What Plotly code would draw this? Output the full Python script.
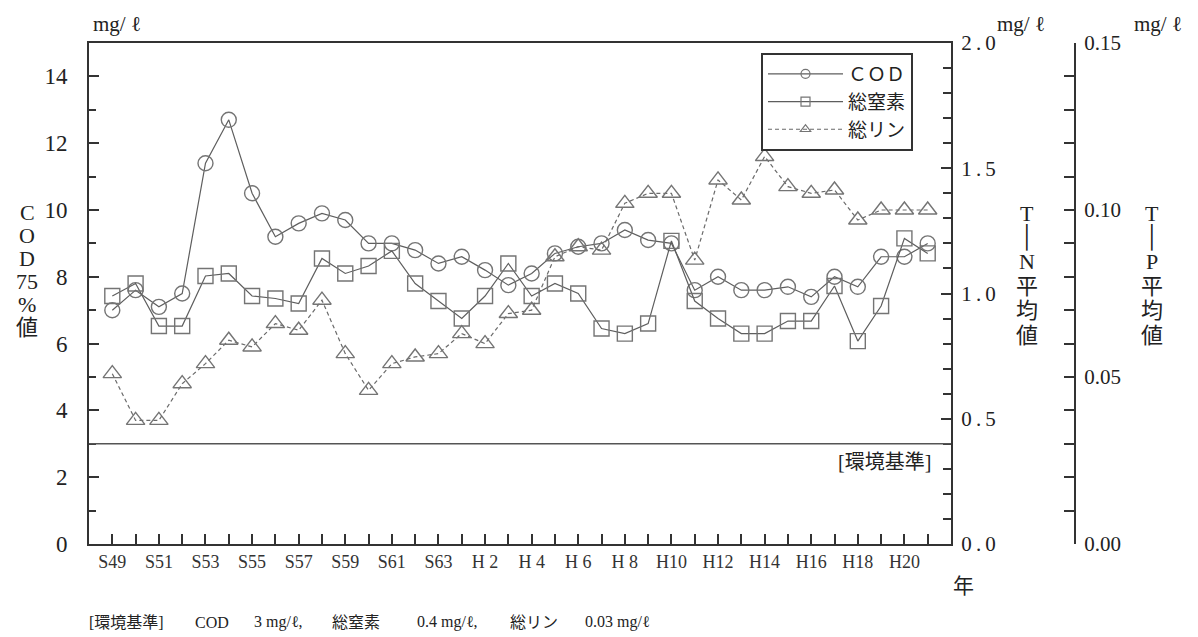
import plotly.graph_objects as go

# ---------------- data ----------------
YEARS = ["S49", "S50", "S51", "S52", "S53", "S54", "S55", "S56", "S57", "S58",
         "S59", "S60", "S61", "S62", "S63", "H1", "H2", "H3", "H4", "H5",
         "H6", "H7", "H8", "H9", "H10", "H11", "H12", "H13", "H14", "H15",
         "H16", "H17", "H18", "H19", "H20", "H21"]
X_LABELS = ["S49", "", "S51", "", "S53", "", "S55", "", "S57", "",
            "S59", "", "S61", "", "S63", "", "H 2", "", "H 4", "",
            "H 6", "", "H 8", "", "H10", "", "H12", "", "H14", "",
            "H16", "", "H18", "", "H20", ""]
COD = [7.0, 7.6, 7.1, 7.5, 11.4, 12.7, 10.5, 9.2, 9.6, 9.9,
       9.7, 9.0, 9.0, 8.8, 8.4, 8.6, 8.2, 7.75, 8.1, 8.7,
       8.9, 9.0, 9.4, 9.1, 9.0, 7.6, 8.0, 7.6, 7.6, 7.7,
       7.4, 8.0, 7.7, 8.6, 8.6, 9.0]
TN = [0.99, 1.04, 0.87, 0.87, 1.07, 1.08, 0.99, 0.98, 0.96, 1.14,
      1.08, 1.11, 1.17, 1.04, 0.97, 0.90, 0.99, 1.12, 0.99, 1.04,
      1.00, 0.86, 0.84, 0.88, 1.21, 0.97, 0.90, 0.84, 0.84, 0.89,
      0.89, 1.03, 0.81, 0.95, 1.22, 1.16]
TP = [0.051, 0.037, 0.037, 0.048, 0.054, 0.061, 0.059, 0.066, 0.064, 0.073,
      0.057, 0.046, 0.054, 0.056, 0.057, 0.063, 0.060, 0.069, 0.070, 0.086,
      0.089, 0.088, 0.102, 0.105, 0.105, 0.085, 0.109, 0.103, 0.116, 0.107,
      0.105, 0.106, 0.097, 0.100, 0.100, 0.100]
SERIES_NAMES = ["ＣＯＤ", "総窒素", "総リン"]
COD_STANDARD = 3
COD_TICKS = [0, 2, 4, 6, 8, 10, 12, 14]
TN_TICKS = [0.0, 0.5, 1.0, 1.5, 2.0]
TN_TICKTEXT = ["0\u2009.\u20090", "0\u2009.\u20095", "1\u2009.\u20090", "1\u2009.\u20095", "2\u2009.\u20090"]
TP_TICKS = [0.0, 0.05, 0.10, 0.15]
TP_TICKTEXT = ["0.00", "0.05", "0.10", "0.15"]
LEFT_TITLE = ["C", "O", "D", "75", "%", "値"]
TN_TITLE = ["T", "│", "N", "平", "均", "値"]
TP_TITLE = ["T", "│", "P", "平", "均", "値"]

# ---------------- layout geometry ----------------
W, H = 1198, 637
ML, MR, MT, MB = 89, 123, 43, 93
PW, PH = W - ML - MR, H - MT - MB
PLOT_RIGHT = 951
XDOM = (PLOT_RIGHT - ML) / PW

SERIF = "Liberation Serif, DejaVu Serif, Noto Sans CJK JP, serif"
JP = "Noto Sans CJK JP, Liberation Serif, serif"
AX = "#333333"
LINE_C = "#5e5e5e"
MARK_C = "#747474"


def px(x, y):
    return (x - ML) / PW, (H - MB - y) / PH


fig = go.Figure()
styles = [
    dict(symbol="circle-open", dash="solid", color=LINE_C),
    dict(symbol="square-open", dash="solid", color=LINE_C),
    dict(symbol="triangle-up-open", dash="4px,3px", color="#6a6a6a"),
]
series = [(COD, "y"), (TN, "y2"), (TP, "y3")]
for (vals, ax), st, name in zip(series, styles, SERIES_NAMES):
    fig.add_trace(go.Scatter(
        x=YEARS, y=vals, name=name, mode="lines+markers", yaxis=ax, showlegend=False,
        line=dict(color=st["color"], width=1.2, dash=st["dash"]),
        marker=dict(symbol=st["symbol"], size=16 if "triangle" in st["symbol"] else 15,
                    color=MARK_C, line=dict(width=1.4))))
# legend-only entries (smaller symbols as in the original key)
for st, name in zip(styles, SERIES_NAMES):
    fig.add_trace(go.Scatter(
        x=[None], y=[None], name=name, mode="lines+markers", showlegend=True,
        line=dict(color=st["color"], width=1.2, dash=st["dash"]),
        marker=dict(symbol=st["symbol"], size=9, color=MARK_C, line=dict(width=1.2))))

fig.add_shape(type="line", xref="x domain", x0=0, x1=1, yref="y", y0=COD_STANDARD, y1=COD_STANDARD,
              line=dict(color="#555555", width=1.6))

ann = []


def text(x, y, s, size, family=SERIF, xa="center", ya="middle", color="#222222"):
    xp, yp = px(x, y)
    ann.append(dict(x=xp, y=yp, xref="paper", yref="paper", text=s, showarrow=False,
                    xanchor=xa, yanchor=ya, font=dict(size=size, family=family, color=color)))


text(117, 24, "mg/ ℓ", 21)
text(1021, 24, "mg/ ℓ", 21)
text(1158, 24, "mg/ ℓ", 21)

for i, ch in enumerate(LEFT_TITLE):
    text(27, 212 + i * 23, ch, 22)
for i, ch in enumerate(TN_TITLE):
    text(1027, 213 + i * 24.4, ch, 22)
for i, ch in enumerate(TP_TITLE):
    text(1152, 213 + i * 24.4, ch, 22)

text(963, 586, "年", 21)
text(933, 462, "[環境基準]", 20, xa="right")

# footnote
text(87, 622, "[環境基準]", 16, xa="left")
text(193, 622, "COD", 16, xa="left")
text(252, 622, "3 mg/ℓ,", 16, xa="left")
text(330, 622, "総窒素", 16, xa="left")
text(415, 622, "0.4 mg/ℓ,", 16, xa="left")
text(508, 622, "総リン", 16, xa="left")
text(583, 622, "0.03 mg/ℓ", 16, xa="left")

lx, ly = px(761, 53)
fig.update_layout(
    width=W, height=H,
    margin=dict(l=ML, r=MR, t=MT, b=MB, pad=0),
    paper_bgcolor="white", plot_bgcolor="white",
    font=dict(family=SERIF, color="#222222"),
    annotations=ann,
    showlegend=True,
    legend=dict(x=lx, y=ly, xanchor="left", yanchor="top", xref="paper", yref="paper",
                bgcolor="white", bordercolor="#333333", borderwidth=2,
                font=dict(size=19, family=JP, color="#222222"),
                itemwidth=75, tracegroupgap=9, itemsizing="trace"),
    xaxis=dict(domain=[0, XDOM], type="category", range=[-1, len(YEARS)],
               tickmode="array", tickvals=YEARS, ticktext=X_LABELS,
               ticks="inside", ticklen=10, tickwidth=1.5, tickcolor=AX,
               showline=True, linewidth=2, linecolor=AX, mirror=True,
               showgrid=False, zeroline=False,
               tickfont=dict(size=18, family=SERIF, color="#333333")),
    yaxis=dict(range=[0, 15], tickmode="array", tickvals=COD_TICKS,
               ticks="inside", ticklen=10, tickwidth=1.5, tickcolor=AX,
               minor=dict(dtick=1, tick0=0, ticks="inside", ticklen=7, tickwidth=1.5, tickcolor=AX),
               showline=True, linewidth=2, linecolor=AX, mirror=True,
               showgrid=False, zeroline=False, ticklabelstandoff=15,
               tickfont=dict(size=23, family=SERIF, color="#222222")),
    yaxis2=dict(range=[0, 2], overlaying="y", side="right", anchor="x",
                tickmode="array", tickvals=TN_TICKS, ticktext=TN_TICKTEXT,
                ticks="inside", ticklen=10, tickwidth=1.5, tickcolor=AX,
                minor=dict(dtick=0.1, tick0=0, ticks="inside", ticklen=8, tickwidth=1.5, tickcolor=AX),
                showline=True, linewidth=2, linecolor=AX,
                showgrid=False, zeroline=False, ticklabelstandoff=4,
                tickfont=dict(size=21, family=SERIF, color="#222222")),
    yaxis3=dict(range=[0, 0.15], overlaying="y", side="right", anchor="free", position=1.0,
                tickmode="array", tickvals=TP_TICKS, ticktext=TP_TICKTEXT,
                ticks="inside", ticklen=10, tickwidth=1.5, tickcolor=AX,
                minor=dict(dtick=0.01, tick0=0, ticks="inside", ticklen=10, tickwidth=1.5, tickcolor=AX),
                showline=True, linewidth=2, linecolor=AX,
                showgrid=False, zeroline=False, ticklabelstandoff=4,
                tickfont=dict(size=21, family=SERIF, color="#222222")),
)

fig.write_html("out.html", config={"displayModeBar": False},
               post_script="document.body.style.margin='0';")
